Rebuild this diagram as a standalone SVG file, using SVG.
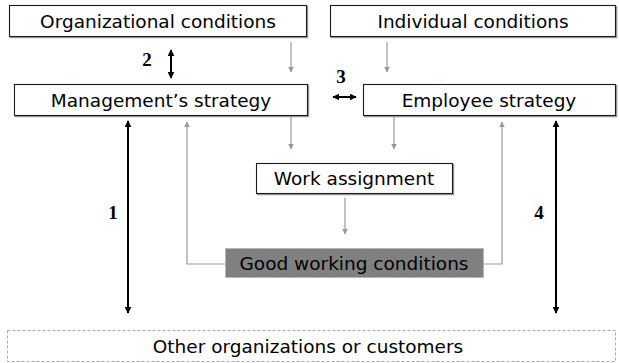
<svg xmlns="http://www.w3.org/2000/svg" width="619" height="363" viewBox="0 0 619 363">
  <style>
    .box { fill: #ffffff; stroke: #1a1a1a; stroke-width: 1.1; }
    .shadow { fill: none; stroke: #9a9a9a; stroke-width: 1.5; }
    .label { font-family: "DejaVu Sans", Verdana, sans-serif; font-size: 18.5px; fill: #000000; text-anchor: middle; }
    .num { font-family: "Liberation Serif", "Times New Roman", serif; font-size: 19px; font-weight: bold; fill: #000000; text-anchor: middle; }
    .flow { fill: none; stroke: #999999; stroke-width: 1.2; }
    .link { fill: none; stroke: #000000; stroke-width: 2; }
  </style>
  <defs>
    <marker id="grayHead" viewBox="0 0 10 10" refX="9" refY="5" markerWidth="6" markerHeight="6" markerUnits="userSpaceOnUse" orient="auto">
      <path d="M0,0 L10,5 L0,10 z" fill="#999999"/>
    </marker>
    <marker id="blackHead" viewBox="0 0 10 10" refX="9" refY="5" markerWidth="7" markerHeight="7" markerUnits="userSpaceOnUse" orient="auto-start-reverse">
      <path d="M0,0 L10,5 L0,10 z" fill="#000000"/>
    </marker>
  </defs>

  <rect width="619" height="363" fill="#ffffff"/>

  <g id="connectors">
    <!-- conditions feeding the two strategies -->
    <line class="flow" x1="291" y1="42" x2="291" y2="72" marker-end="url(#grayHead)"/>
    <line class="flow" x1="387" y1="42" x2="387" y2="72" marker-end="url(#grayHead)"/>
    <!-- strategies feeding the work assignment -->
    <line class="flow" x1="291" y1="116" x2="291" y2="149" marker-end="url(#grayHead)"/>
    <line class="flow" x1="394" y1="116" x2="394" y2="149" marker-end="url(#grayHead)"/>
    <line class="flow" x1="345" y1="198" x2="345" y2="234" marker-end="url(#grayHead)"/>
    <!-- feedback from good working conditions -->
    <polyline class="flow" points="225,264 187,264 187,122" marker-end="url(#grayHead)"/>
    <polyline class="flow" points="484,264 502,264 502,122" marker-end="url(#grayHead)"/>
    <!-- numbered relations -->
    <line class="link" x1="171" y1="50" x2="171" y2="78" marker-start="url(#blackHead)" marker-end="url(#blackHead)"/>
    <line class="link" x1="333" y1="97" x2="356" y2="97" marker-start="url(#blackHead)" marker-end="url(#blackHead)"/>
    <line class="link" x1="128" y1="121" x2="128" y2="313" marker-start="url(#blackHead)" marker-end="url(#blackHead)"/>
    <line class="link" x1="556" y1="121" x2="556" y2="313" marker-start="url(#blackHead)" marker-end="url(#blackHead)"/>
    <text class="num" x="147" y="66">2</text>
    <text class="num" x="341" y="83">3</text>
    <text class="num" x="113" y="219">1</text>
    <text class="num" x="539" y="219">4</text>
  </g>

  <g id="organizational-conditions">
    <polyline class="shadow" points="10,37.5 307.5,37.5 307.5,6"/>
    <rect class="box" x="9.5" y="5.5" width="297" height="31"/>
    <text class="label" x="158" y="28">Organizational conditions</text>
  </g>

  <g id="individual-conditions">
    <polyline class="shadow" points="331,37.5 616.5,37.5 616.5,6"/>
    <rect class="box" x="330.5" y="5.5" width="285" height="31"/>
    <text class="label" x="473" y="28">Individual conditions</text>
  </g>

  <g id="management-strategy">
    <polyline class="shadow" points="15,116.5 308.5,116.5 308.5,85"/>
    <rect class="box" x="14.5" y="84.5" width="293" height="31"/>
    <text class="label" x="161" y="107">Management’s strategy</text>
  </g>

  <g id="employee-strategy">
    <polyline class="shadow" points="364,116.5 616.5,116.5 616.5,85"/>
    <rect class="box" x="363.5" y="84.5" width="252" height="31"/>
    <text class="label" x="489" y="107">Employee strategy</text>
  </g>

  <g id="work-assignment">
    <polyline class="shadow" points="257,194.5 453.5,194.5 453.5,164"/>
    <rect class="box" x="256.5" y="163.5" width="196" height="30"/>
    <text class="label" x="354" y="185">Work assignment</text>
  </g>

  <g id="good-working-conditions">
    <rect x="225.5" y="248.5" width="258" height="29" fill="#808080" stroke="#b0b0b0" stroke-width="1" stroke-dasharray="3,2"/>
    <text class="label" x="354" y="270">Good working conditions</text>
  </g>

  <g id="other-organizations">
    <rect x="7.5" y="330.5" width="608" height="31" fill="#ffffff" stroke="#aaaaaa" stroke-width="1" stroke-dasharray="3,2"/>
    <text class="label" x="308" y="353">Other organizations or customers</text>
  </g>
</svg>
